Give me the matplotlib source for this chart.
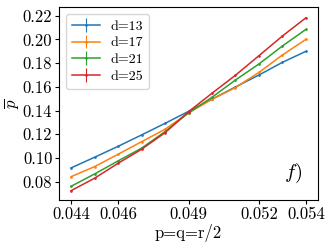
import numpy as np
import matplotlib
matplotlib.use('Agg')
import matplotlib.pyplot as plt

plt.rcParams['font.family'] = 'serif'
plt.rcParams['font.serif'] = ['cmr10']
plt.rcParams['mathtext.fontset'] = 'cm'
plt.rcParams['axes.formatter.use_mathtext'] = True
plt.rcParams['axes.unicode_minus'] = False

# p = q = r/2
p = [0.044, 0.045, 0.046, 0.047, 0.048, 0.049, 0.050, 0.051, 0.052, 0.053, 0.054]

pbar = {
    'd=13': [0.0916, 0.1006, 0.1098, 0.1194, 0.1292, 0.1393, 0.1496, 0.1599, 0.1700, 0.1807, 0.1900],
    'd=17': [0.0842, 0.0927, 0.1031, 0.1137, 0.1242, 0.1380, 0.1495, 0.1594, 0.1722, 0.1869, 0.2001],
    'd=21': [0.0761, 0.0865, 0.0975, 0.1082, 0.1222, 0.1380, 0.1512, 0.1658, 0.1793, 0.1945, 0.2085],
    'd=25': [0.0724, 0.0829, 0.0955, 0.1073, 0.1213, 0.1390, 0.1546, 0.1698, 0.1863, 0.2029, 0.2183],
}
err = 0.0006

xticks = [0.044, 0.046, 0.049, 0.052, 0.054]
yticks = [0.08, 0.10, 0.12, 0.14, 0.16, 0.18, 0.20, 0.22]

fig = plt.figure(figsize=(3.32, 2.49), dpi=100)
ax = fig.add_axes([0.1786, 0.197, 0.7784, 0.7737])

for lab, vals in pbar.items():
    ax.errorbar(p, vals, yerr=err, marker='.', ms=1.8, lw=1.1, elinewidth=0.8, label=lab)

ax.set_xlim(0.0435, 0.0545)
ax.set_ylim(0.0646, 0.2271)
ax.set_xticks(xticks)
ax.set_xticklabels(['%.3f' % v for v in xticks])
ax.set_yticks(yticks)
ax.set_yticklabels(['%.2f' % v for v in yticks])
ax.tick_params(labelsize=12, length=3, pad=2)

ax.set_xlabel('p=q=r/2', fontsize=12, labelpad=1)
ax.set_ylabel(r'$\overline{p}$', fontsize=12, labelpad=1)
ax.text(0.905, 0.14, r'$f)$', transform=ax.transAxes, fontsize=15,
        ha='center', va='center')

ax.legend(loc='upper left', fontsize=10, handlelength=2, borderpad=0.4,
          labelspacing=0.3)

fig.savefig('out.png', dpi=100)
